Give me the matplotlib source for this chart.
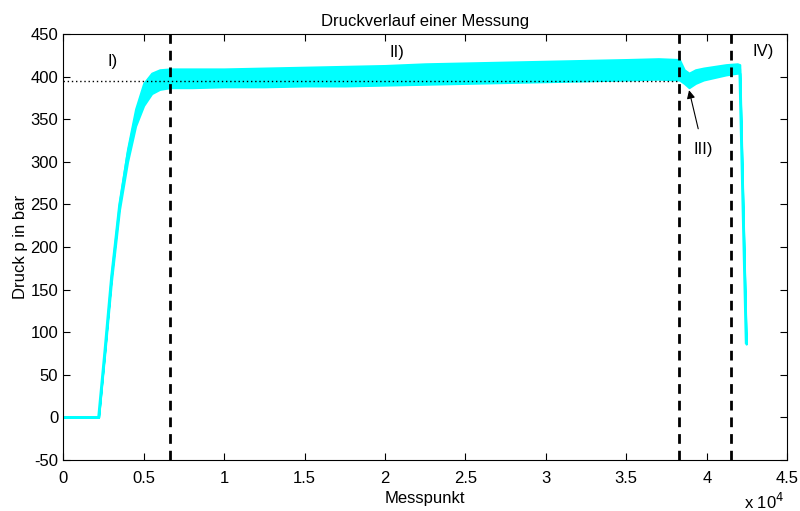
import matplotlib
matplotlib.use('Agg')
import matplotlib.pyplot as plt
from matplotlib.ticker import FuncFormatter

plt.rcParams['font.family'] = ['Liberation Sans', 'DejaVu Sans']
plt.rcParams['axes.unicode_minus'] = False

# Druckverlauf: Hüllkurve (oben/unten) des verrauschten Signals
mess_x = [0, 2200, 2600, 3000, 3500, 4000, 4500, 5000, 5500, 6000, 6650,
          8000, 10000, 12500, 15000, 17500, 20000, 22500, 25000, 27500,
          30000, 32500, 35000, 37000, 38300, 38600, 38900, 39300, 39800,
          40500, 41200, 41900, 42050, 42250, 42450]
druck_oben = [0, 0, 82, 168, 253, 315, 362, 392, 404, 408, 409,
              409, 409, 410, 411, 412, 413, 415, 416, 417,
              418, 419, 420, 421, 420, 408, 404, 408, 410,
              412, 414, 415, 414, 250, 90]
druck_unten = [0, 0, 78, 160, 244, 300, 342, 366, 380, 385, 387,
               387, 388, 388, 389, 389, 390, 391, 392, 393,
               394, 395, 396, 397, 396, 392, 387, 392, 396,
               399, 402, 404, 404, 245, 86]

trennlinien = [6650, 38300, 41500]
nenndruck = 395
nenndruck_ende = 38300

fig = plt.figure(figsize=(8, 5.11), dpi=100)
ax = fig.add_axes([0.079, 0.0998, 0.905, 0.8337])

cyan = '#00FFFF'
ax.fill_between(mess_x, druck_unten, druck_oben, color=cyan, lw=1.5, edgecolor=cyan)
druck_mitte = [(a + b) / 2 for a, b in zip(druck_oben, druck_unten)]
ax.plot(mess_x, druck_mitte, color=cyan, lw=2)

ax.plot([0, nenndruck_ende], [nenndruck, nenndruck], color='black', ls=(0, (1, 2)), lw=1)
for xv in trennlinien:
    ax.axvline(xv, color='black', ls=(0, (3.5, 2.5)), lw=2)

ax.text(3050, 418, 'I)', fontsize=12, ha='center', va='center')
ax.text(20760, 428, 'II)', fontsize=12, ha='center', va='center')
ax.text(43500, 429, 'IV)', fontsize=12, ha='center', va='center')
ax.annotate('III)', xy=(38900, 384), xytext=(39780, 314), fontsize=12,
            ha='center', va='center',
            arrowprops=dict(arrowstyle='-|>', color='black', lw=0.8,
                            shrinkA=8, shrinkB=0, mutation_scale=12))

ax.set_xlim(0, 45000)
ax.set_ylim(-50, 450)
ax.set_xticks([i * 5000 for i in range(10)])
ax.set_yticks(list(range(-50, 451, 50)))
ax.xaxis.set_major_formatter(FuncFormatter(lambda v, p: '%g' % (v / 1e4)))
ax.tick_params(direction='in', top=True, right=True, labelsize=12, length=5, width=0.8)
ax.tick_params(axis='x', pad=8)
for s in ax.spines.values():
    s.set_linewidth(0.8)

ax.set_title('Druckverlauf einer Messung', fontsize=12, pad=6)
ax.set_xlabel('Messpunkt', fontsize=12, labelpad=3.5)
ax.set_ylabel('Druck p in bar', fontsize=12, labelpad=2)
fig.text(0.955, 0.003, r'x 10$^{4}$', fontsize=12, ha='center')

plt.savefig('out.png', dpi=100)
